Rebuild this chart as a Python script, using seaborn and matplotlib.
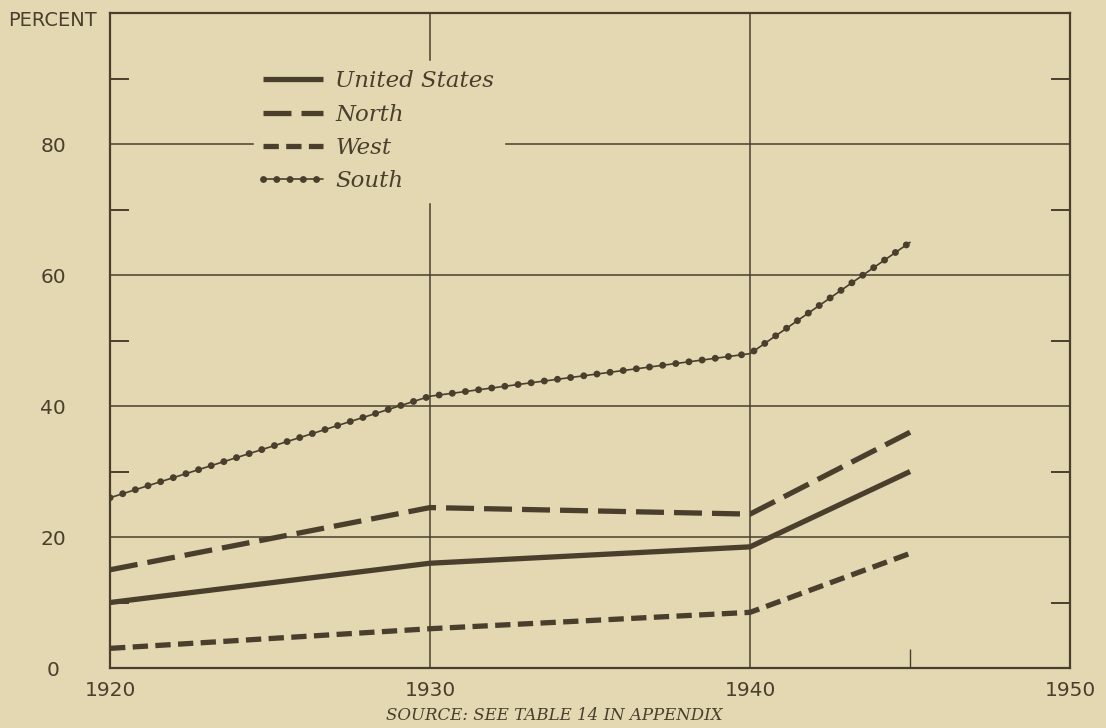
import pandas as pd
import seaborn as sns
import matplotlib.pyplot as plt
from matplotlib.lines import Line2D
from matplotlib.ticker import FixedLocator

years = [1920, 1930, 1940, 1945]
united_states = [10, 16, 18.5, 30]
north = [15, 24.5, 23.5, 36]
west = [3, 6, 8.5, 17.5]
south = [26, 41.5, 48, 65]

regions = ["United States", "North", "West", "South"]
values = [united_states, north, west, south]

df = pd.DataFrame({
    "year": years * len(regions),
    "percent": [v for vals in values for v in vals],
    "region": [r for r in regions for _ in years],
})

bg = "#e3d8b1"
ink = "#4a3f2d"

sns.set_style("white", rc={"axes.facecolor": bg, "figure.facecolor": bg})
plt.rcParams["font.family"] = ["DejaVu Sans"]
plt.rcParams["text.color"] = ink

fig = plt.figure(figsize=(11.06, 7.28), dpi=100)
ax = fig.add_axes([0.0995, 0.0824, 0.868, 0.8996])

# line styles: dash patterns are in units of line width
styles = {
    "United States": dict(lw=3.8, linestyle="-", solid_capstyle="butt"),
    "North": dict(lw=3.8, linestyle=(0, (5.3, 1.9)), dash_capstyle="butt"),
    "West": dict(lw=3.8, linestyle=(0, (2.9, 1.4)), dash_capstyle="butt"),
}
dot_style = dict(lw=5.0, linestyle=(0, (0.01, 1.9)), dash_capstyle="round")

for name in ["United States", "North", "West"]:
    sub = df[df.region == name]
    sns.lineplot(data=sub, x="year", y="percent", color=ink, ax=ax,
                 legend=False, zorder=3, **styles[name])

sub = df[df.region == "South"]
sns.lineplot(data=sub, x="year", y="percent", color=ink, lw=1.2, ax=ax,
             legend=False, zorder=3)
sns.lineplot(data=sub, x="year", y="percent", color=ink, ax=ax,
             legend=False, zorder=3, **dot_style)

ax.set_xlim(1920, 1950)
ax.set_ylim(0, 100)
ax.set_xticks([1920, 1930, 1940, 1950])
ax.set_yticks([0, 20, 40, 60, 80])
ax.set_xlabel("")
ax.set_ylabel("")

ax.yaxis.set_minor_locator(FixedLocator([10, 30, 50, 70, 90]))
ax.xaxis.set_minor_locator(FixedLocator([1945]))
ax.tick_params(axis="y", which="major", length=0, pad=41, labelsize=14.5,
               labelcolor=ink)
ax.tick_params(axis="x", which="major", length=0, pad=9, labelsize=14.5,
               labelcolor=ink)
ax.tick_params(axis="y", which="minor", direction="in", length=14, width=1.4,
               color=ink, left=True, right=True)
ax.tick_params(axis="x", which="minor", direction="in", length=14, width=1.0,
               color=ink, bottom=True, top=False)
for lbl in ax.get_yticklabels():
    lbl.set_horizontalalignment("center")

ax.grid(True, which="major", color=ink, lw=1.1)
for s in ax.spines.values():
    s.set_color(ink)
    s.set_linewidth(1.6)

handles = [
    Line2D([], [], color=ink, **styles["United States"]),
    Line2D([], [], color=ink, **styles["North"]),
    Line2D([], [], color=ink, **styles["West"]),
    (Line2D([], [], color=ink, lw=1.2), Line2D([], [], color=ink, **dot_style)),
]
leg = ax.legend(handles, regions, loc="upper left",
                bbox_to_anchor=(0.15, 0.927), borderaxespad=0,
                frameon=True, facecolor=bg, edgecolor=bg, framealpha=1,
                fancybox=False, handlelength=2.6, handletextpad=0.55,
                labelspacing=0.5, borderpad=0.4,
                prop={"family": "DejaVu Serif", "style": "italic", "size": 16.5})
leg.set_zorder(4)
for t in leg.get_texts():
    t.set_color(ink)

fig.text(0.007, 0.972, "PERCENT", fontsize=14, color=ink, va="center",
         ha="left")
fig.text(0.501, 0.017, "SOURCE: SEE TABLE 14 IN APPENDIX", fontsize=12,
         family="DejaVu Serif", style="italic", color=ink, ha="center",
         va="center")

plt.savefig("out.png", dpi=100, facecolor=bg)
